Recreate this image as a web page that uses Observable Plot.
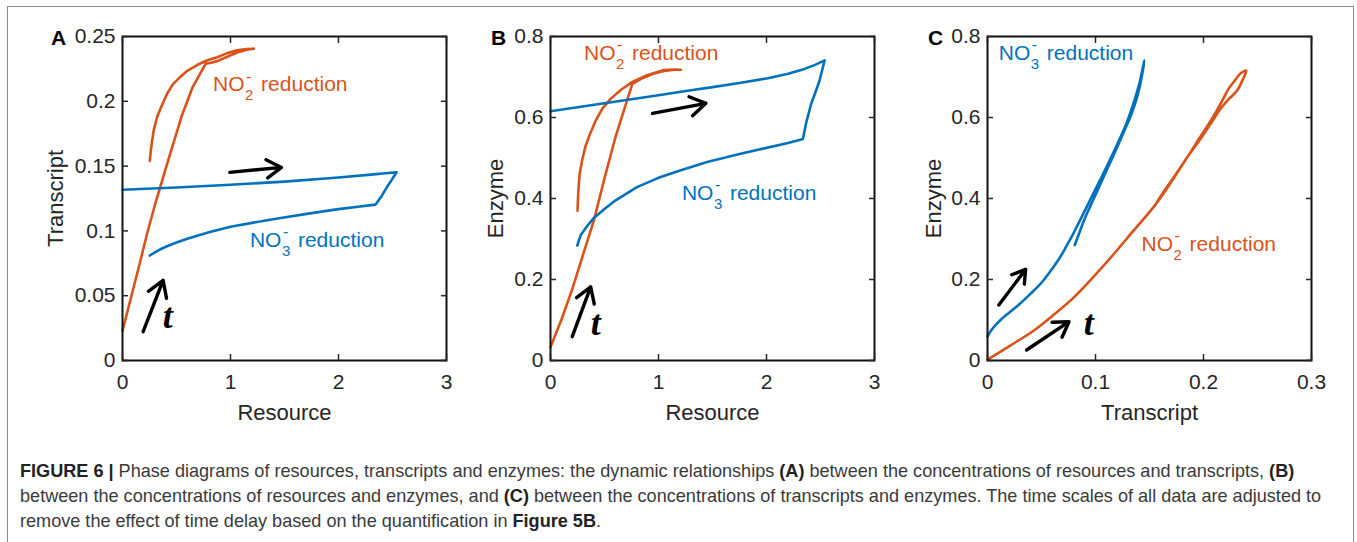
<!DOCTYPE html>
<html>
<head>
<meta charset="utf-8">
<script src="https://cdn.jsdelivr.net/npm/d3@7"></script>
<script src="https://cdn.jsdelivr.net/npm/@observablehq/plot@0.6"></script>
<style>
  html, body { margin: 0; padding: 0; background: #fff; }
  body { width: 1357px; height: 542px; position: relative; overflow: hidden; font-family: "Liberation Sans", Arial, sans-serif; }
  #frame { position: absolute; left: 7px; top: 6px; width: 1345px; height: 560px; border: 1.5px solid #8c8c8c; }
  .panel { position: absolute; top: 0; }
  #caption { position: absolute; left: 20px; top: 459px; font-size: 18.1px; line-height: 24.8px; color: #3a3a3a; white-space: nowrap; }
  #caption b { color: #222; }
</style>
</head>
<body>
<div id="frame"></div>
<div id="pA" class="panel" style="left:0px"></div>
<div id="pB" class="panel" style="left:450px"></div>
<div id="pC" class="panel" style="left:887px"></div>
<div id="caption">
<b>FIGURE 6 |</b> Phase diagrams of resources, transcripts and enzymes: the dynamic relationships <b>(A)</b> between the concentrations of resources and transcripts, <b>(B)</b><br>
between the concentrations of resources and enzymes, and <b>(C)</b> between the concentrations of transcripts and enzymes. The time scales of all data are adjusted to<br>
remove the effect of time delay based on the quantification in <b>Figure 5B</b>.
</div>
<script>
// ---------- data ----------
const panelLetters = ["A", "B", "C"];
const xLabels = ["Resource", "Resource", "Transcript"];
const yLabels = ["Transcript", "Enzyme", "Enzyme"];
const seriesNames = ["NO3- reduction", "NO2- reduction"];

const resourceTicks = [0, 1, 2, 3];
const transcriptTicksA = [0, 0.05, 0.1, 0.15, 0.2, 0.25];
const enzymeTicks = [0, 0.2, 0.4, 0.6, 0.8];
const transcriptTicksC = [0, 0.1, 0.2, 0.3];

// Panel A: resource vs transcript
const A_NO2_resource = [0, 0.04, 0.08, 0.16, 0.228, 0.30, 0.35, 0.45, 0.55, 0.65, 0.77, 0.82, 0.877, 0.96, 1.06, 1.15, 1.216,
  1.15, 1.06, 0.96, 0.877, 0.78, 0.691, 0.60, 0.537, 0.47, 0.414, 0.36, 0.321, 0.29, 0.275, 0.262, 0.253];
const A_NO2_transcript = [0.023, 0.036, 0.049, 0.075, 0.098, 0.12, 0.134, 0.162, 0.189, 0.211, 0.229, 0.2298, 0.231, 0.234, 0.2377, 0.2398, 0.2405,
  0.2403, 0.2393, 0.2368, 0.234, 0.2315, 0.228, 0.2235, 0.219, 0.2135, 0.206, 0.196, 0.188, 0.178, 0.17, 0.162, 0.154];
const A_NO3_resource = [0, 0.5, 1.0, 1.5, 2.0, 2.3, 2.537, 2.49, 2.45, 2.40, 2.343,
  2.2, 2.0, 1.75, 1.45, 1.2, 1.0, 0.8, 0.6, 0.5, 0.413, 0.35, 0.30, 0.253];
const A_NO3_transcript = [0.1317, 0.1335, 0.1356, 0.1380, 0.1412, 0.1434, 0.1453, 0.139, 0.134, 0.127, 0.1203,
  0.1188, 0.1168, 0.1137, 0.1098, 0.1062, 0.1032, 0.0990, 0.0940, 0.0910, 0.0882, 0.0858, 0.0835, 0.081];

// Panel B: resource vs enzyme
const B_NO2_resource = [0, 0.1, 0.2, 0.3, 0.402, 0.5, 0.6, 0.7, 0.758, 0.85, 0.95, 1.05, 1.15, 1.207,
  1.15, 1.05, 0.9, 0.758, 0.65, 0.557, 0.48, 0.42, 0.37, 0.325, 0.295, 0.27, 0.258, 0.25];
const B_NO2_enzyme = [0.033, 0.10, 0.175, 0.26, 0.346, 0.45, 0.55, 0.635, 0.683, 0.697, 0.708, 0.715, 0.718, 0.718,
  0.7185, 0.717, 0.705, 0.688, 0.668, 0.646, 0.622, 0.593, 0.562, 0.53, 0.497, 0.461, 0.42, 0.37];
const B_NO3_resource = [0, 0.5, 1.0, 1.238, 1.5, 1.75, 2.012, 2.2, 2.352, 2.45, 2.538, 2.49, 2.45, 2.414, 2.37, 2.337,
  2.2, 2.0, 1.75, 1.45, 1.2, 1.0, 0.8, 0.6, 0.5, 0.402, 0.34, 0.28, 0.248];
const B_NO3_enzyme = [0.6156, 0.635, 0.655, 0.665, 0.675, 0.685, 0.697, 0.708, 0.72, 0.73, 0.741, 0.69, 0.66, 0.634, 0.59, 0.547,
  0.537, 0.525, 0.51, 0.49, 0.469, 0.451, 0.428, 0.395, 0.374, 0.352, 0.332, 0.31, 0.284];

// Panel C: transcript vs enzyme
const C_NO2_transcript = [0, 0.02, 0.043, 0.06, 0.08, 0.1, 0.117, 0.135, 0.155, 0.17, 0.185, 0.198, 0.208, 0.216, 0.224, 0.231, 0.2366, 0.2396,
  0.2345, 0.2295, 0.2235, 0.218, 0.2125, 0.205, 0.196, 0.186, 0.176, 0.165, 0.155];
const C_NO2_enzyme = [0.002, 0.035, 0.074, 0.11, 0.156, 0.212, 0.263, 0.32, 0.383, 0.44, 0.502, 0.55, 0.59, 0.622, 0.647, 0.666, 0.695, 0.716,
  0.709, 0.693, 0.672, 0.645, 0.618, 0.585, 0.548, 0.506, 0.466, 0.424, 0.383];
const C_NO3_transcript = [0, 0.003, 0.008, 0.0121, 0.02, 0.03, 0.04, 0.05, 0.057, 0.0635, 0.069, 0.074, 0.079, 0.0845, 0.0905, 0.0975, 0.1055, 0.1135, 0.1215, 0.129, 0.1352, 0.1407, 0.1452,
  0.1428, 0.139, 0.1335, 0.1255, 0.1173, 0.1095, 0.1019, 0.0955, 0.0895, 0.085, 0.0808];
const C_NO3_enzyme = [0.059, 0.073, 0.089, 0.100, 0.118, 0.140, 0.165, 0.192, 0.216, 0.240, 0.263, 0.287, 0.311, 0.340, 0.372, 0.410, 0.452, 0.496, 0.542, 0.588, 0.635, 0.685, 0.741,
  0.70, 0.655, 0.61, 0.56, 0.51, 0.465, 0.42, 0.383, 0.347, 0.315, 0.285];

// time-direction arrows [x1, y1, x2, y2]
const arrowsA = [[0.994, 0.1452, 1.472, 0.149], [0.191, 0.0222, 0.376, 0.0619]];
const arrowsB = [[0.944, 0.610, 1.439, 0.635], [0.201, 0.0588, 0.372, 0.182]];
const arrowsC = [[0.0105, 0.137, 0.0353, 0.225], [0.0362, 0.026, 0.0755, 0.0958]];

// ---------- drawing ----------
const ORANGE = "#D95319", BLUE = "#0072BD", INK = "#262626";
const FS = 21;

function zipXY(xs, ys) { return d3.zip(xs, ys).map(([x, y]) => ({x, y})); }
function toArrows(a) { return a.map(([x1, y1, x2, y2]) => ({x1, y1, x2, y2})); }

function chemLabel(x, y, sub, color) {
  const d = [{x, y}];
  const base = {x: "x", y: "y", fill: color, textAnchor: "start", fontSize: FS, lineAnchor: "middle"};
  return [
    Plot.text(d, {...base, text: () => "NO"}),
    Plot.text(d, {...base, text: () => sub, fontSize: 15, dx: 32, dy: 11}),
    Plot.text(d, {...base, text: () => "-", fontSize: 16, dx: 33, dy: -8}),
    Plot.text(d, {...base, text: () => "reduction", dx: 48})
  ];
}

function panel({letter, xDomain, yDomain, xTicks, yTicks, xLabel, yLabel, lines, labels, arrows, tPos, marginLeft, width, yLabelDx, letterDx, curve}) {
  const fmt = d => String(+d.toFixed(3));
  return Plot.plot({
    width, height: 430,
    marginLeft, marginRight: width - marginLeft - 324, marginTop: 36, marginBottom: 70,
    style: {fontFamily: "Liberation Sans, Arial, sans-serif", fontSize: FS + "px", color: INK, background: "transparent", overflow: "visible"},
    x: {domain: xDomain, label: null},
    y: {domain: yDomain, label: null},
    marks: [
      ...lines.map(l => Plot.line(l.data, {x: "x", y: "y", stroke: l.color, strokeWidth: 2.6, strokeLinejoin: "round", curve: curve || "linear"})),
      ...labels.flatMap(l => chemLabel(l.x, l.y, l.sub, l.color)),
      Plot.arrow(toArrows(arrows), {x1: "x1", y1: "y1", x2: "x2", y2: "y2", stroke: "#000", strokeWidth: 3.4, headLength: 14, headAngle: 64}),
      Plot.text([tPos], {x: "x", y: "y", text: () => "t", fontFamily: "Liberation Serif, serif", fontStyle: "italic", fontWeight: "bold", fontSize: 36, lineAnchor: "bottom", fill: "#000"}),
      Plot.frame({stroke: "#111", strokeWidth: 2}),
      Plot.axisX({ticks: xTicks, tickSize: -6, tickPadding: 20, tickFormat: fmt, label: null, fontSize: FS, strokeWidth: 1.5}),
      Plot.axisX({ticks: xTicks, anchor: "top", tickSize: -6, tickFormat: () => "", label: null, strokeWidth: 1.5}),
      Plot.axisY({ticks: yTicks, tickSize: -6, tickPadding: 13, tickFormat: fmt, label: null, fontSize: FS, strokeWidth: 1.5}),
      Plot.axisY({ticks: yTicks, anchor: "right", tickSize: -6, tickFormat: () => "", label: null, strokeWidth: 1.5}),
      Plot.text([xLabel], {frameAnchor: "bottom", text: d => d, dy: 44, textAnchor: "middle", lineAnchor: "top", fontSize: FS + 1, fill: INK}),
      Plot.text([yLabel], {frameAnchor: "left", text: d => d, rotate: -90, dx: yLabelDx, textAnchor: "middle", lineAnchor: "top", fontSize: FS + 1, fill: INK}),
      Plot.text([letter], {frameAnchor: "top-left", text: d => d, dx: letterDx, dy: 2, textAnchor: "middle", lineAnchor: "middle", fontWeight: "bold", fontSize: FS, fill: "#000"})
    ]
  });
}

document.getElementById("pA").append(panel({
  letter: panelLetters[0], xDomain: [0, 3], yDomain: [0, 0.25], xTicks: resourceTicks, yTicks: transcriptTicksA,
  xLabel: xLabels[0], yLabel: yLabels[0], marginLeft: 122, width: 470, yLabelDx: -75, letterDx: -64,
  lines: [{data: zipXY(A_NO2_resource, A_NO2_transcript), color: ORANGE}, {data: zipXY(A_NO3_resource, A_NO3_transcript), color: BLUE}],
  labels: [{x: 0.839, y: 0.213, sub: "2", color: ORANGE}, {x: 1.18, y: 0.0927, sub: "3", color: BLUE}],
  arrows: arrowsA, tPos: {x: 0.42, y: 0.025}
}));
document.getElementById("pB").append(panel({
  letter: panelLetters[1], xDomain: [0, 3], yDomain: [0, 0.8], xTicks: resourceTicks, yTicks: enzymeTicks,
  xLabel: xLabels[1], yLabel: yLabels[1], marginLeft: 100, width: 450, yLabelDx: -63, letterDx: -52,
  lines: [{data: zipXY(B_NO2_resource, B_NO2_enzyme), color: ORANGE}, {data: zipXY(B_NO3_resource, B_NO3_enzyme), color: BLUE}],
  labels: [{x: 0.31, y: 0.7585, sub: "2", color: ORANGE}, {x: 1.217, y: 0.414, sub: "3", color: BLUE}],
  arrows: arrowsB, tPos: {x: 0.418, y: 0.063}
}));
document.getElementById("pC").append(panel({
  letter: panelLetters[2], xDomain: [0, 0.3], yDomain: [0, 0.8], xTicks: transcriptTicksC, yTicks: enzymeTicks,
  xLabel: xLabels[2], yLabel: yLabels[2], marginLeft: 100, width: 450, yLabelDx: -62, letterDx: -52, curve: "catmull-rom",
  lines: [{data: zipXY(C_NO2_transcript, C_NO2_enzyme), color: ORANGE}, {data: zipXY(C_NO3_transcript, C_NO3_enzyme), color: BLUE}],
  labels: [{x: 0.0105, y: 0.7585, sub: "3", color: BLUE}, {x: 0.1427, y: 0.2877, sub: "2", color: ORANGE}],
  arrows: arrowsC, tPos: {x: 0.0938, y: 0.063}
}));
</script>
</body>
</html>
